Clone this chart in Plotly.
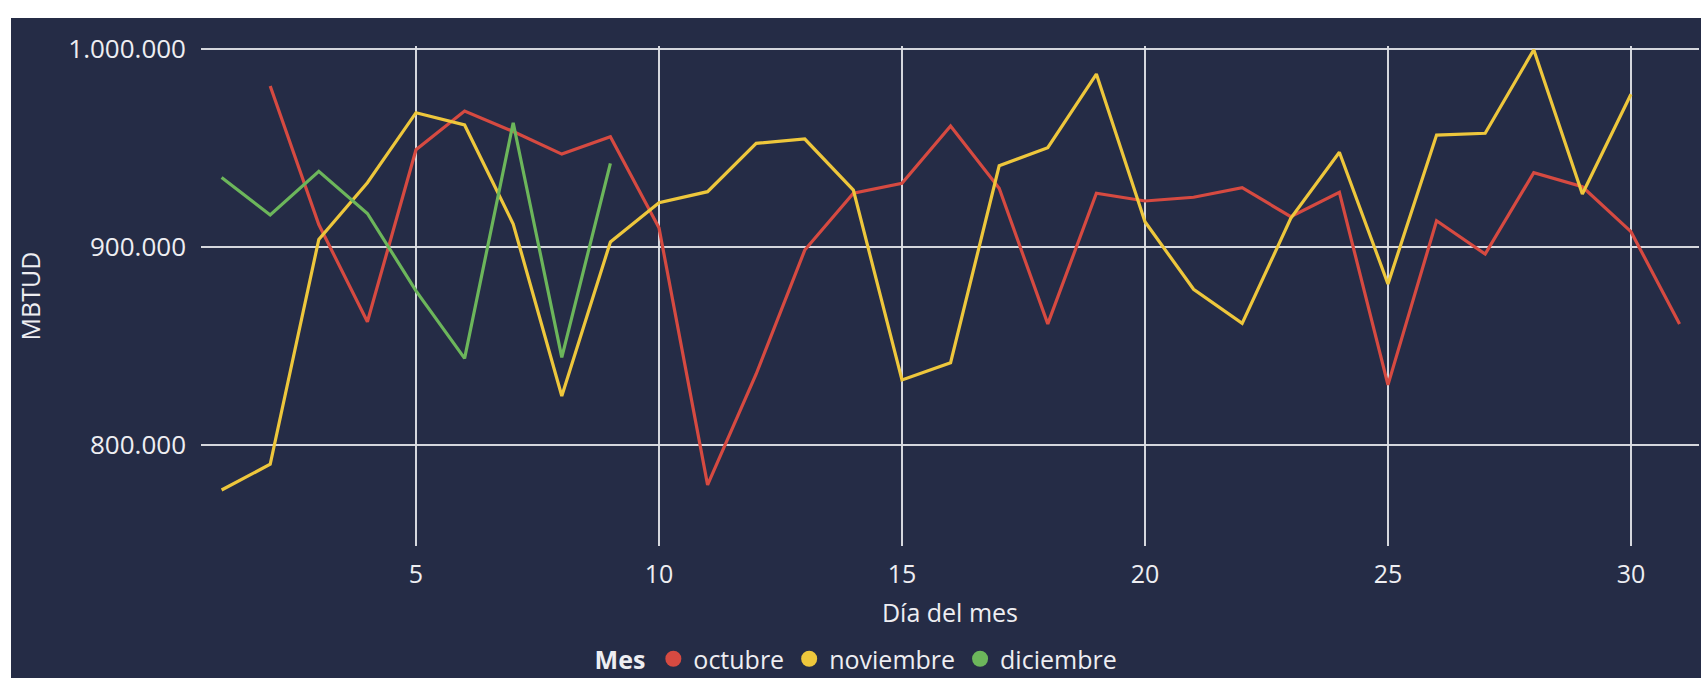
import plotly.graph_objects as go

dias = list(range(1, 32))

# octubre: day 1 missing
octubre = [None, 981500, 911500, 862400, 949300, 968800, 958500, 947100, 955900, 909900,
           780000, 836000, 898600, 927300, 932300, 961300, 929800, 861300, 927300, 923400,
           925300, 930100, 915500, 927800, 830500, 913400, 896600, 937700, 930600, 907900,
           861300]
noviembre = [777400, 790400, 904000, 932600, 968000, 961800, 911800, 824900, 902700, 922500,
             928100, 952500, 954700, 928900, 833000, 841700, 941200, 950300, 987500, 912900,
             878800, 861600, 914600, 948000, 881500, 956700, 957600, 999800, 926900, 977300]
diciembre = [935300, 916300, 938400, 917100, 878000, 843900, 962900, 844400, 942400]

series = [
    ("octubre", octubre, "#D64A41"),
    ("noviembre", noviembre, "#EEC73C"),
    ("diciembre", diciembre, "#6CB65B"),
]

x_ticks = [5, 10, 15, 20, 25, 30]
y_ticks = [800000, 900000, 1000000]

FONT = "Segoe UI, Open Sans, sans-serif"
TXT = "#EEEEF2"
BG = "#252C46"
GRID = "rgba(222,224,230,0.95)"

fig = go.Figure()
for name, vals, col in series:
    fig.add_trace(go.Scatter(
        x=dias[:len(vals)], y=vals, mode="lines", name=name,
        line=dict(color=col, width=3.2), showlegend=False,
    ))
for name, vals, col in series:
    fig.add_trace(go.Scatter(
        x=[None], y=[None], mode="markers", name=name,
        marker=dict(color=col, size=16, symbol="circle"),
    ))

fig.update_layout(
    width=1690, height=690,
    margin=dict(l=190, r=2, t=28, b=162),
    paper_bgcolor=BG, plot_bgcolor=BG,
    separators=",.",
    font=dict(family=FONT, color=TXT, size=25),
    showlegend=True,
    legend=dict(
        orientation="h", x=0.4383, xanchor="center", y=-0.226, yanchor="middle",
        title=dict(text="<b>Mes</b>", font=dict(size=25, color=TXT)),
        font=dict(size=25, color=TXT), bgcolor="rgba(0,0,0,0)",
        itemwidth=30, tracegroupgap=0,
    ),
)
fig.update_xaxes(
    range=[0.576, 31.40], tickvals=x_ticks, showgrid=True, gridcolor=GRID, gridwidth=2,
    zeroline=False, showline=False, ticks="", automargin=False,
    tickfont=dict(size=25, color=TXT), ticklabelstandoff=11,
    title=dict(text="Día del mes", font=dict(size=25, color=TXT), standoff=15),
)
fig.update_yaxes(
    range=[749100, 1001700], tickvals=y_ticks, tickformat=",d",
    showgrid=True, gridcolor=GRID, gridwidth=2,
    zeroline=False, showline=False, ticks="", automargin=False,
    tickfont=dict(size=26, color=TXT), ticklabelstandoff=14,
    title=dict(text="MBTUD", font=dict(size=25, color=TXT), standoff=20),
)

fig.write_html(
    "out.html",
    post_script="document.body.style.margin='18px 0 0 11px';document.body.style.overflow='hidden';",
)
